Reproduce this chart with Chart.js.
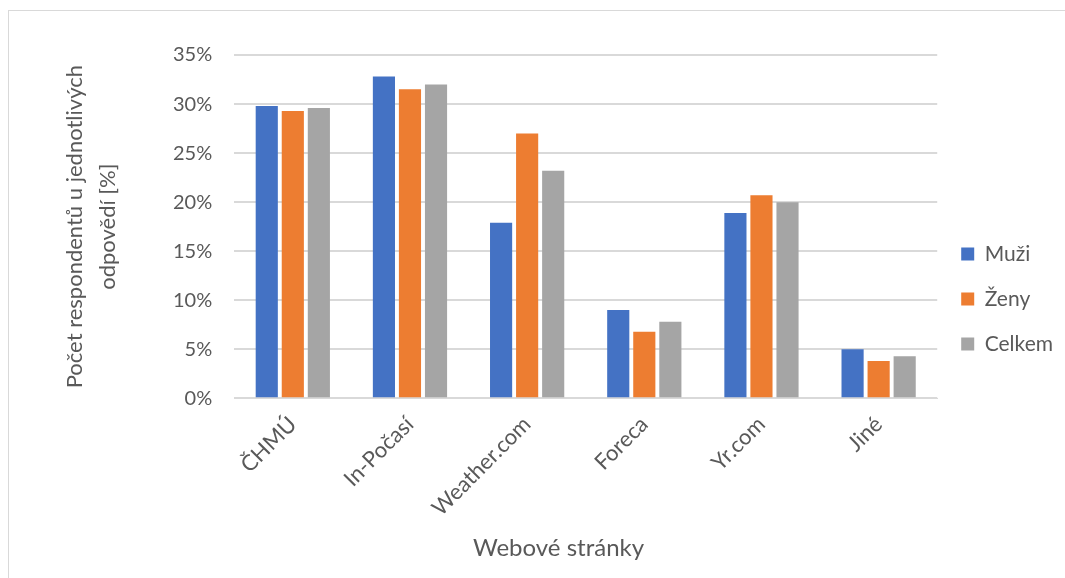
<!DOCTYPE html>
<html>
<head>
<meta charset="utf-8">
<script src="https://cdn.jsdelivr.net/npm/chart.js@4.4.1/dist/chart.umd.min.js"></script>
<style>
  html, body { margin: 0; padding: 0; background: #fff; overflow: hidden; }
  #frame {
    position: absolute; left: 8px; top: 10px; width: 1070px; height: 580px;
    border-left: 1px solid #d9d9d9; border-top: 1px solid #d9d9d9;
  }
  #wrap { position: absolute; left: 0; top: 0; width: 1056px; height: 567px; }
</style>
</head>
<body>
<div id="frame"><div id="wrap"><canvas id="chart"></canvas></div></div>
<script>
var categories = ["ČHMÚ", "In-Počasí", "Weather.com", "Foreca", "Yr.com", "Jiné"];
var muzi   = [29.8, 32.8, 17.9, 9.0, 18.9, 5.0];
var zeny   = [29.3, 31.5, 27.0, 6.8, 20.7, 3.8];
var celkem = [29.6, 32.0, 23.2, 7.8, 20.0, 4.3];
var yTicks = [0, 5, 10, 15, 20, 25, 30, 35];

var textColor = "#595959";
var fontFamily = "Lato, 'Open Sans', sans-serif";

// nudge the legend up a bit, like in the excel chart
var legendShift = {
  id: "legendShift",
  afterLayout: function(chart) {
    var s = chart.options.plugins.legendShift.dy;
    if (chart.legend) {
      chart.legend.top -= s;
      chart.legend.bottom -= s;
    }
  }
};

var canvas = document.getElementById("chart");
var data = {
  labels: categories,
  datasets: [
    { label: "Muži", data: muzi, backgroundColor: "#4472c4" },
    { label: "Ženy", data: zeny, backgroundColor: "#ed7d31" },
    { label: "Celkem", data: celkem, backgroundColor: "#a5a5a5" }
  ]
};

var options = {
  responsive: true,
  maintainAspectRatio: false,
  animation: false,
  layout: { padding: { left: 45, right: 2, top: 44, bottom: 15 } },
  datasets: { bar: { categoryPercentage: 0.667, barPercentage: 0.85 } },
  plugins: {
    tooltip: { enabled: false },
    legendShift: { dy: 10 },
    title: {
      display: true, position: "bottom", text: "Webové stránky",
      color: textColor, font: { family: fontFamily, size: 24, weight: "normal" },
      padding: { top: 0, bottom: 0 }
    },
    legend: {
      position: "right",
      align: "center",
      labels: {
        boxWidth: 13, boxHeight: 13, padding: 24,
        color: textColor,
        font: { family: fontFamily, size: 21 }
      }
    }
  },
  scales: {
    x: {
      grid: { display: false, drawTicks: false },
      border: { color: "#d9d9d9", width: 1 },
      ticks: {
        color: textColor, font: { family: fontFamily, size: 22 },
        minRotation: 45, maxRotation: 45, padding: 13
      }
    },
    y: {
      min: 0, max: 35,
      afterBuildTicks: function(axis) {
        axis.ticks = yTicks.map(function(v) { return { value: v }; });
      },
      grid: { color: "#d9d9d9", lineWidth: 2, drawTicks: false },
      border: { display: false },
      ticks: {
        color: textColor, font: { family: fontFamily, size: 20 }, padding: 22,
        callback: function(v) { return v + "%"; }
      },
      title: {
        display: true,
        text: ["Počet respondentů u jednotlivých", "odpovědí [%]"],
        color: textColor, font: { family: fontFamily, size: 22, lineHeight: 1.5 },
        padding: { bottom: 27 }
      }
    }
  }
};

var chart = new Chart(canvas, { type: "bar", data: data, options: options, plugins: [legendShift] });
</script>
</body>
</html>
